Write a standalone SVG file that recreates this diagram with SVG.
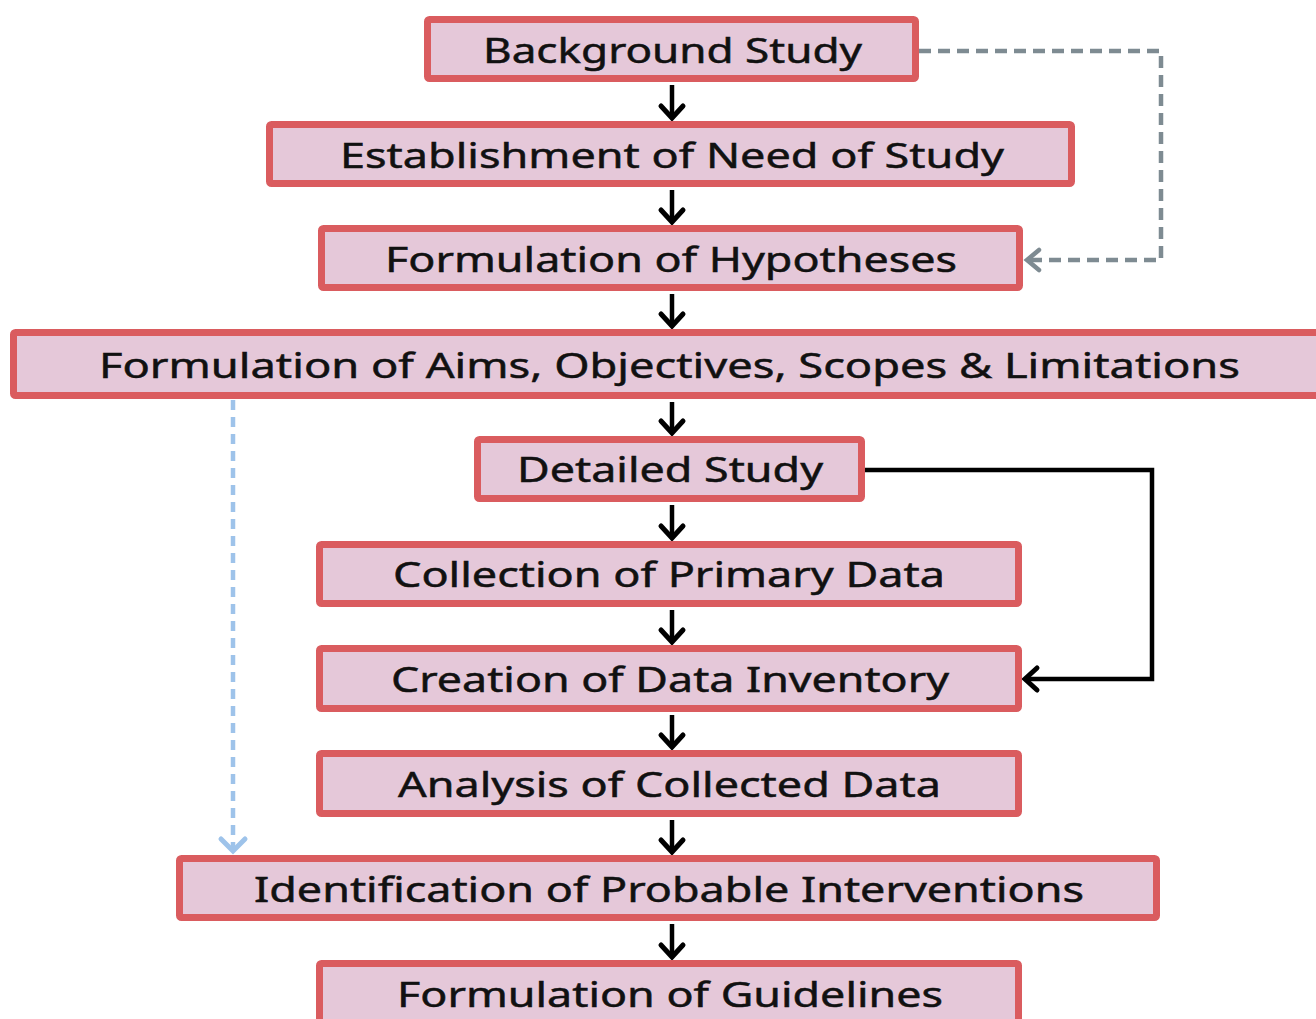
<svg xmlns="http://www.w3.org/2000/svg" width="1316" height="1019" viewBox="0 0 1316 1019">
  <style>
    .box { fill: #e5c8d9; stroke: #da5c5f; stroke-width: 7; }
    .label { font-family: "Noto Sans", "Open Sans", sans-serif; font-size: 35px; fill: #111111; stroke: #111111; stroke-width: 0.5; text-anchor: middle; }
    .flow { fill: none; stroke: #000000; stroke-width: 4.5; }
    .loop-grey { fill: none; stroke: #7e8b92; stroke-width: 4.5; stroke-dasharray: 12 7; }
    .loop-blue { fill: none; stroke: #9ec3ea; stroke-width: 4.5; stroke-dasharray: 10 7; }
  </style>
  <defs>
    <marker id="headBlack" markerUnits="userSpaceOnUse" markerWidth="30" markerHeight="30" viewBox="-15 -15 30 30" refX="0" refY="0" orient="auto" overflow="visible">
      <path d="M-12,-11 L0,0 L-12,11" fill="none" stroke="#000000" stroke-width="5" stroke-linecap="round" stroke-linejoin="miter"/>
    </marker>
    <marker id="headGrey" markerUnits="userSpaceOnUse" markerWidth="30" markerHeight="30" viewBox="-15 -15 30 30" refX="0" refY="0" orient="auto" overflow="visible">
      <path d="M-12,-10 L0,0 L-12,10" fill="none" stroke="#7e8b92" stroke-width="4.5" stroke-linecap="round"/>
    </marker>
    <marker id="headBlue" markerUnits="userSpaceOnUse" markerWidth="30" markerHeight="30" viewBox="-15 -15 30 30" refX="0" refY="0" orient="auto" overflow="visible">
      <path d="M-12,-12 L0,0 L-12,12" fill="none" stroke="#9ec3ea" stroke-width="5" stroke-linecap="round"/>
    </marker>
  </defs>

  <rect width="1316" height="1019" fill="#ffffff"/>

  <g id="connectors">
    <line class="flow" x1="672" y1="85" x2="672" y2="118" marker-end="url(#headBlack)"/>
    <line class="flow" x1="672" y1="190" x2="672" y2="222" marker-end="url(#headBlack)"/>
    <line class="flow" x1="672" y1="294" x2="672" y2="326" marker-end="url(#headBlack)"/>
    <line class="flow" x1="672" y1="402" x2="672" y2="433" marker-end="url(#headBlack)"/>
    <line class="flow" x1="672" y1="505" x2="672" y2="538" marker-end="url(#headBlack)"/>
    <line class="flow" x1="672" y1="610" x2="672" y2="642" marker-end="url(#headBlack)"/>
    <line class="flow" x1="672" y1="715" x2="672" y2="747" marker-end="url(#headBlack)"/>
    <line class="flow" x1="672" y1="820" x2="672" y2="852" marker-end="url(#headBlack)"/>
    <line class="flow" x1="672" y1="924" x2="672" y2="957" marker-end="url(#headBlack)"/>
    <path class="loop-grey" d="M919,51 H1161 V260 H1027" marker-end="url(#headGrey)"/>
    <path class="flow" d="M865,470 H1152 V679 H1025" marker-end="url(#headBlack)"/>
    <path class="loop-blue" d="M233,400 V851" marker-end="url(#headBlue)"/>
  </g>

  <g id="background-study">
    <rect class="box" x="427.5" y="19.5" width="488" height="59" rx="2"/>
    <text class="label" x="672.5" y="63" textLength="379" lengthAdjust="spacingAndGlyphs">Background Study</text>
  </g>
  <g id="need-of-study">
    <rect class="box" x="269.5" y="124.5" width="802" height="59" rx="2"/>
    <text class="label" x="672" y="168" textLength="664" lengthAdjust="spacingAndGlyphs">Establishment of Need of Study</text>
  </g>
  <g id="hypotheses">
    <rect class="box" x="321.5" y="228.5" width="698" height="59" rx="2"/>
    <text class="label" x="671" y="272" textLength="572" lengthAdjust="spacingAndGlyphs">Formulation of Hypotheses</text>
  </g>
  <g id="aims-objectives">
    <rect class="box" x="13.5" y="332.5" width="1320" height="63" rx="2"/>
    <text class="label" x="669.5" y="378" textLength="1141" lengthAdjust="spacingAndGlyphs">Formulation of Aims, Objectives, Scopes &amp; Limitations</text>
  </g>
  <g id="detailed-study">
    <rect class="box" x="477.5" y="439.5" width="384" height="59" rx="2"/>
    <text class="label" x="670" y="482" textLength="306" lengthAdjust="spacingAndGlyphs">Detailed Study</text>
  </g>
  <g id="primary-data">
    <rect class="box" x="319.5" y="544.5" width="699" height="59" rx="2"/>
    <text class="label" x="669" y="587" textLength="552" lengthAdjust="spacingAndGlyphs">Collection of Primary Data</text>
  </g>
  <g id="data-inventory">
    <rect class="box" x="319.5" y="648.5" width="699" height="60" rx="2"/>
    <text class="label" x="670" y="692" textLength="558" lengthAdjust="spacingAndGlyphs">Creation of Data Inventory</text>
  </g>
  <g id="analysis">
    <rect class="box" x="319.5" y="753.5" width="699" height="60" rx="2"/>
    <text class="label" x="669.5" y="797" textLength="543" lengthAdjust="spacingAndGlyphs">Analysis of Collected Data</text>
  </g>
  <g id="interventions">
    <rect class="box" x="179.5" y="858.5" width="977" height="59" rx="2"/>
    <text class="label" x="669" y="902" textLength="830" lengthAdjust="spacingAndGlyphs">Identification of Probable Interventions</text>
  </g>
  <g id="guidelines">
    <rect class="box" x="319.5" y="963.5" width="699" height="70" rx="2"/>
    <text class="label" x="670" y="1007" textLength="546" lengthAdjust="spacingAndGlyphs">Formulation of Guidelines</text>
  </g>
</svg>
